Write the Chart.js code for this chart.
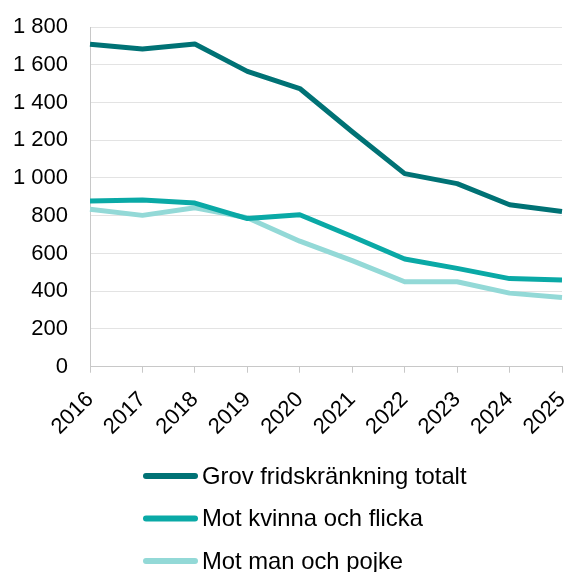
<!DOCTYPE html>
<html>
<head>
<meta charset="utf-8">
<script src="https://cdn.jsdelivr.net/npm/chart.js@4/dist/chart.umd.min.js"></script>
<style>
  body { margin: 0; background: #fff; }
  canvas { display: block; }
</style>
</head>
<body>
<canvas id="chart" width="566" height="572"></canvas>
<script>
var years = ['2016','2017','2018','2019','2020','2021','2022','2023','2024','2025']
var totalt = [1708, 1683, 1710, 1565, 1474, 1245, 1023, 970, 858, 823]
var kvinna = [878, 883, 867, 785, 805, 690, 571, 521, 467, 460]
var man = [834, 802, 842, 789, 665, 562, 450, 450, 390, 367]
var seriesNames = ['Grov fridskränkning totalt', 'Mot kvinna och flicka', 'Mot man och pojke']
var colors = ['#007275', '#0aa9a6', '#93d9d7']

var font = 'Liberation Sans, Arial, sans-serif'

function fmt(v) {
    // 1800 -> "1 800"
    return String(v).replace(/\B(?=(\d{3})+(?!\d))/g, ' ')
}

// legend drawn as a left aligned column under the chart
var listLegend = {
    id: 'listLegend',
    afterDraw: function(chart) {
        var ctx = chart.ctx
        ctx.save()
        ctx.font = '23.8px ' + font
        ctx.textBaseline = 'middle'
        ctx.lineCap = 'round'
        chart.data.datasets.forEach(function(ds, i) {
            var y = 476 + i * 42.5
            ctx.strokeStyle = ds.borderColor
            ctx.lineWidth = 6
            ctx.beginPath()
            ctx.moveTo(146, y)
            ctx.lineTo(195, y)
            ctx.stroke()
            ctx.fillStyle = '#000'
            ctx.fillText(ds.label, 202, y + 1)
        })
        ctx.restore()
    }
}

var config = {
    type: 'line',
    data: {
        labels: years,
        datasets: [
            { label: seriesNames[0], data: totalt, borderColor: colors[0], backgroundColor: colors[0] },
            { label: seriesNames[1], data: kvinna, borderColor: colors[1], backgroundColor: colors[1] },
            { label: seriesNames[2], data: man, borderColor: colors[2], backgroundColor: colors[2] }
        ]
    },
    options: {
        responsive: false,
        animation: false,
        layout: { padding: { top: 27, right: 4, bottom: 118, left: 0 } },
        elements: {
            point: { radius: 0 },
            line: { borderWidth: 5, tension: 0, borderJoinStyle: 'round' }
        },
        plugins: {
            legend: { display: false },
            tooltip: { enabled: false }
        },
        scales: {
            x: {
                afterFit: function(scale) { scale.paddingRight = 0; scale.paddingLeft = 0 },
                grid: { drawOnChartArea: false, drawTicks: true, tickLength: 6, color: '#c8c8c8' },
                border: { color: '#c8c8c8', width: 1 },
                ticks: {
                    color: '#000',
                    font: { family: font, size: 22 },
                    minRotation: 45, maxRotation: 45,
                    padding: 14,
                    autoSkip: false
                }
            },
            y: {
                min: 0, max: 1800,
                afterFit: function(scale) { scale.width = 90; scale.paddingTop = 0; scale.paddingBottom = 0 },
                grid: { color: '#e3e3e3', drawTicks: false },
                border: { color: '#c8c8c8', width: 1 },
                ticks: {
                    stepSize: 200,
                    color: '#000',
                    font: { family: font, size: 22 },
                    padding: 22,
                    callback: function(v) { return fmt(v) }
                }
            }
        }
    },
    plugins: [listLegend]
}
var la = new Chart(document.getElementById('chart'), config)
</script>
</body>
</html>
